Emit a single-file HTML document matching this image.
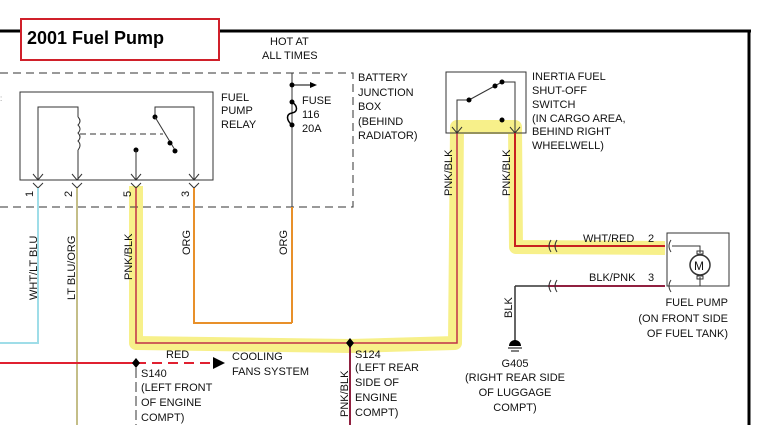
<!DOCTYPE html>
<html><head><meta charset="utf-8"><style>
html,body{margin:0;padding:0;background:#fff;}
svg{display:block;}
text{font-family:"Liberation Sans",sans-serif;font-size:11px;fill:#111;}
</style></head><body>
<svg width="760" height="425" viewBox="0 0 760 425" xmlns="http://www.w3.org/2000/svg">
<!-- yellow highlight -->
<path d="M136,186 L136,343 L350,346 L455,343 L457,127 L515,127 L516,247 L665,248" fill="none" stroke="#f7f08a" stroke-width="14" stroke-linejoin="round"/>
<!-- frame -->
<line x1="0" y1="31" x2="751" y2="31" stroke="#000" stroke-width="3"/>
<line x1="749" y1="30" x2="749" y2="425" stroke="#000" stroke-width="3"/>
<rect x="21" y="19" width="198" height="41" fill="#fff" stroke="#d0202a" stroke-width="2"/>
<text x="27" y="44" style="font-size:18px;font-weight:bold;fill:#000">2001 Fuel Pump</text>
<text x="270" y="45">HOT AT</text>
<text x="262" y="59">ALL TIMES</text>
<!-- dashed junction box -->
<path d="M0,73 L353,73 L353,207 L0,207" fill="none" stroke="#333" stroke-dasharray="8,5"/>
<text x="358" y="81">BATTERY</text>
<text x="358" y="96">JUNCTION</text>
<text x="358" y="110">BOX</text>
<text x="358" y="125">(BEHIND</text>
<text x="358" y="139">RADIATOR)</text>
<!-- fuse -->
<line x1="292" y1="73" x2="292" y2="207" stroke="#333"/>
<line x1="292" y1="207" x2="292" y2="323" stroke="#e8902a" stroke-width="2"/>
<circle cx="292" cy="85" r="2.5" fill="#000"/>
<line x1="292" y1="85" x2="312" y2="85" stroke="#000"/>
<path d="M310,82 L317,85 L310,88Z" fill="#000"/>
<circle cx="292" cy="102" r="2.5" fill="#000"/><circle cx="292" cy="125" r="2.5" fill="#000"/>
<path d="M292,102 C298,106 298,112 292,113 C286,114 286,120 292,125" fill="none" stroke="#000" stroke-width="1.5"/>
<text x="302" y="104">FUSE</text><text x="302" y="118">116</text><text x="302" y="132">20A</text>
<!-- relay -->
<rect x="20" y="92" width="193" height="88" fill="none" stroke="#333"/>
<text x="221" y="101">FUEL</text><text x="221" y="114">PUMP</text><text x="221" y="128">RELAY</text>
<path d="M38,180 L38,107 L78,107 L78,117 M78,150 L78,180" fill="none" stroke="#333"/>
<path d="M78,117 q4,4 0,8 q4,4 0,8 q4,4 0,8 q4,4 0,9" fill="none" stroke="#333"/>
<line x1="80" y1="134" x2="163" y2="134" stroke="#333" stroke-dasharray="6,4"/>
<path d="M194,180 L194,107 L155,107 L155,117" fill="none" stroke="#333"/>
<circle cx="155" cy="117" r="2.5" fill="#000"/>
<line x1="155" y1="117" x2="175" y2="150" stroke="#333"/>
<circle cx="170" cy="143" r="2.5" fill="#000"/><circle cx="175" cy="151" r="2.5" fill="#000"/>
<circle cx="136" cy="150" r="2.5" fill="#000"/><line x1="136" y1="150" x2="136" y2="180" stroke="#333"/>
<g fill="none" stroke="#333">
<path d="M33,174 L38,180 L43,174 M33,183 L38,188 L43,183"/>
<path d="M72,174 L77,180 L82,174 M72,183 L77,188 L82,183"/>
<path d="M131,174 L136,180 L141,174 M131,183 L136,188 L141,183"/>
<path d="M189,174 L194,180 L199,174 M189,183 L194,188 L199,183"/>
</g>
<g transform="rotate(-90)"><text x="-197" y="33">1</text><text x="-197" y="72">2</text><text x="-197" y="131">5</text><text x="-197" y="189">3</text></g>
<!-- wires -->
<path d="M38,188 L38,343 L0,343" fill="none" stroke="#9fdde8" stroke-width="2"/>
<line x1="77" y1="188" x2="77" y2="425" stroke="#b0a860" stroke-width="1.5"/>
<path d="M194,188 L194,323 L292,323" fill="none" stroke="#e8902a" stroke-width="2"/>
<path d="M136,188 L136,343 L350,343" fill="none" stroke="#c03048" stroke-width="1.5"/>
<path d="M350,343 L457,343 L457,133" fill="none" stroke="#c03048" stroke-width="1.5"/>
<line x1="350" y1="343" x2="350" y2="425" stroke="#902040" stroke-width="2"/>
<g transform="rotate(-90)" style="">
<text x="-300" y="37">WHT/LT BLU</text>
<text x="-300" y="75">LT BLU/ORG</text>
<text x="-280" y="132">PNK/BLK</text>
<text x="-255" y="190">ORG</text>
<text x="-255" y="287">ORG</text>
<text x="-417" y="348">PNK/BLK</text>
<text x="-196" y="452">PNK/BLK</text>
<text x="-196" y="510">PNK/BLK</text>
<text x="-318" y="512">BLK</text>
</g>
<!-- red wire -->
<line x1="0" y1="363" x2="136" y2="363" stroke="#e02030" stroke-width="2"/>
<line x1="136" y1="363" x2="214" y2="363" stroke="#e02030" stroke-width="2" stroke-dasharray="10,6"/>
<path d="M213,357 L225,363 L213,369Z" fill="#000"/>
<path d="M136,358 L140,363 L136,368 L132,363Z" fill="#000"/>
<line x1="136" y1="368" x2="136" y2="425" stroke="#333" stroke-dasharray="10,4"/>
<text x="166" y="358">RED</text>
<text x="232" y="360">COOLING</text><text x="232" y="375">FANS SYSTEM</text>
<text x="141" y="377">S140</text><text x="141" y="391">(LEFT FRONT</text><text x="141" y="406">OF ENGINE</text><text x="141" y="421">COMPT)</text>
<path d="M350,338 L354,343 L350,348 L346,343Z" fill="#000"/>
<text x="355" y="358">S124</text><text x="355" y="371">(LEFT REAR</text><text x="355" y="386">SIDE OF</text><text x="355" y="401">ENGINE</text><text x="355" y="416">COMPT)</text>
<!-- inertia switch -->
<rect x="446" y="72" width="80" height="61" fill="none" stroke="#333"/>
<path d="M457,133 L457,100 L469,100 M501,82 L515,82 L515,133" fill="none" stroke="#333"/>
<line x1="469" y1="100" x2="502" y2="82" stroke="#333"/>
<circle cx="469" cy="100" r="2.5" fill="#000"/><circle cx="495" cy="86" r="2.5" fill="#000"/><circle cx="502" cy="82" r="2.5" fill="#000"/><circle cx="502" cy="120" r="2.5" fill="#000"/>
<path d="M452,127 L457,133 L462,127 M510,127 L515,133 L520,127" fill="none" stroke="#333"/>
<text x="532" y="80">INERTIA FUEL</text><text x="532" y="94">SHUT-OFF</text><text x="532" y="108">SWITCH</text><text x="532" y="122">(IN CARGO AREA,</text><text x="532" y="135">BEHIND RIGHT</text><text x="532" y="149">WHEELWELL)</text>
<path d="M515,133 L515,246 L665,246" fill="none" stroke="#c82020" stroke-width="2"/>
<path d="M551,240 q-4,6 0,12 M557,240 q-4,6 0,12" fill="none" stroke="#333"/>
<text x="583" y="242">WHT/RED</text><text x="648" y="242">2</text>
<!-- fuel pump -->
<rect x="667" y="233" width="62" height="53" fill="none" stroke="#333"/>
<path d="M671,240 q-4,6 0,12 M671,280 q-4,6 0,12" fill="none" stroke="#333"/>
<path d="M672,246 L700,246 L700,253 M700,277 L700,286 L672,286" fill="none" stroke="#333"/>
<circle cx="700" cy="265" r="10" fill="none" stroke="#333" stroke-width="1.5"/>
<rect x="697" y="251" width="6" height="3" fill="none" stroke="#333"/><rect x="697" y="276" width="6" height="3" fill="none" stroke="#333"/>
<text x="694" y="270" style="font-size:12px">M</text>
<line x1="548" y1="286" x2="665" y2="286" stroke="#902040" stroke-width="2"/>
<path d="M515,286 L548,286 M515,286 L515,342" fill="none" stroke="#333" stroke-width="1.5"/>
<path d="M551,280 q-4,6 0,12 M557,280 q-4,6 0,12" fill="none" stroke="#333"/>
<text x="589" y="281">BLK/PNK</text><text x="648" y="281">3</text>
<text x="728" y="306" text-anchor="end">FUEL PUMP</text><text x="728" y="322" text-anchor="end">(ON FRONT SIDE</text><text x="728" y="337" text-anchor="end">OF FUEL TANK)</text>
<path d="M509,346 a6,6 0 0 1 12,0Z" fill="#000"/>
<line x1="508" y1="348" x2="522" y2="348" stroke="#000"/><line x1="511" y1="351" x2="519" y2="351" stroke="#000"/>
<text x="515" y="367" text-anchor="middle">G405</text><text x="515" y="381" text-anchor="middle">(RIGHT REAR SIDE</text><text x="515" y="396" text-anchor="middle">OF LUGGAGE</text><text x="515" y="411" text-anchor="middle">COMPT)</text>
<text x="0" y="101" style="font-size:8px;fill:#888">:</text>
</svg>
</body></html>
